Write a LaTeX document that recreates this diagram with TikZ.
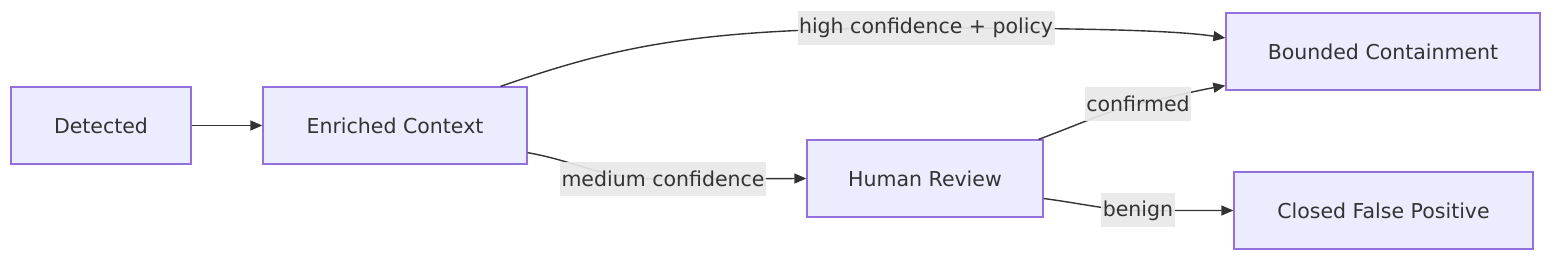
\documentclass[tikz,border=0pt]{standalone}
\usepackage{fontspec}
\setmainfont{DejaVu Sans}
\usetikzlibrary{arrows.meta,calc}
\definecolor{nodefill}{HTML}{ECECFF}
\definecolor{nodeline}{HTML}{9370DB}
\definecolor{txt}{HTML}{333333}
\definecolor{lblfill}{HTML}{E8E8E8}
\tikzset{
  box/.style={draw=nodeline, fill=nodefill, line width=1.3pt, text=txt,
    minimum height=77pt, inner sep=0pt, font=\fontsize{20.5}{24}\selectfont},
  lbl/.style={fill=lblfill, fill opacity=0.92, text opacity=1, text=txt,
    inner sep=1.5pt, minimum height=34pt, font=\fontsize{20.5}{24}\selectfont},
  edge/.style={draw=txt, line width=1.4pt,
    -{Triangle[length=12pt,width=10pt]}},
}
\begin{document}
\begin{tikzpicture}[x=1pt,y=-1pt]
\useasboundingbox (0,0) rectangle (1568,264);
\node[box, minimum width=180pt] (det) at (101,125.5) {Detected};
\node[box, minimum width=264pt] (ec) at (395,125.5) {Enriched Context};
\node[box, minimum width=314pt] (bc) at (1383,51.5) {Bounded Containment};
\node[box, minimum width=236pt] (hr) at (925,178.5) {Human Review};
\node[box, minimum width=299pt] (cfp) at (1383.5,210.5) {Closed False Positive};

\coordinate (c1) at (926,28);
\coordinate (c2) at (663,179);
\coordinate (c3) at (1138,104);
\coordinate (c4) at (1138,210.5);

\draw[edge] (det.east) -- (ec.west);
\draw[edge] ($(ec.north east)+(-27,0)$) .. controls (620,45) and (700,28) .. (c1)
  .. controls (1100,28) and (1180,31) .. ($(bc.west)+(0,-13.5)$);
\draw[edge] ($(ec.south east)+(0,-12)$) .. controls (580,162) and (600,179) .. (c2) -- (hr.west);
\draw[edge] ($(hr.north east)+(-5,0)$) .. controls (1080,124) and (1110,110) .. (c3)
  .. controls (1170,97) and (1200,90) .. ($(bc.south west)+(0,-5)$);
\draw[edge] ($(hr.east)+(0,20)$) .. controls (1085,204) and (1110,210.5) .. (c4) -- (cfp.west);

\node[lbl] (l1) at (c1) {high confidence + policy};
\node[lbl] (l2) at (c2) {medium confidence};
\node[lbl] (l3) at (c3) {confirmed};
\node[lbl] (l4) at (c4) {benign};
\end{tikzpicture}
\end{document}
